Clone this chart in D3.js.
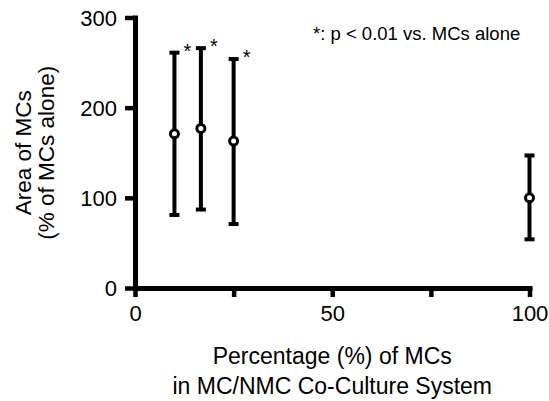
<!DOCTYPE html>
<html>
<head>
<meta charset="utf-8">
<script src="https://cdn.jsdelivr.net/npm/d3@7"></script>
<style>
  body { margin: 0; background: #fff; }
  text { font-family: "Liberation Sans", Arial, sans-serif; fill: #000; }
</style>
</head>
<body>
<div id="chart"></div>
<script>
// values
var pctMCs = [10, 16.7, 25, 100];
var meanArea = [171, 177, 163, 100];
var upperArea = [261, 266, 254, 147];
var lowerArea = [81, 87, 71, 54];
var significant = [true, true, true, false];

var xTicks = [0, 25, 50, 75, 100];
var xTickLabels = ["0", "", "50", "", "100"];
var yTicks = [0, 100, 200, 300];

var W = 549, H = 401;
var margin = { top: 17.5, right: 19.5, bottom: 113, left: 135 },
    width = W - margin.left - margin.right,
    height = H - margin.top - margin.bottom;

var svg = d3.select("#chart")
    .append("svg")
    .attr("width", W)
    .attr("height", H);

var g = svg.append("g")
    .attr("transform", "translate(" + margin.left + "," + margin.top + ")");

var x = d3.scaleLinear().domain([0, 100]).range([0, width]);
var y = d3.scaleLinear().domain([0, 300]).range([height, 0]);

// axes
var xAxis = g.append("g")
    .attr("transform", "translate(0," + height + ")")
    .call(d3.axisBottom(x)
        .tickValues(xTicks)
        .tickFormat(function(d, i) { return xTickLabels[i]; })
        .tickSize(9)
        .tickSizeOuter(0)
        .tickPadding(5));

var yAxis = g.append("g")
    .call(d3.axisLeft(y)
        .tickValues(yTicks)
        .tickSize(10)
        .tickSizeOuter(0)
        .tickPadding(8));

[xAxis, yAxis].forEach(function(ax) {
    ax.select(".domain")
        .attr("stroke", "#000")
        .attr("stroke-width", 5)
        .attr("stroke-linecap", "square");
    ax.selectAll(".tick line")
        .attr("stroke", "#000")
        .attr("stroke-width", 4.5);
    ax.selectAll(".tick text")
        .style("font-size", "22px")
        .attr("fill", "#000");
});

xAxis.selectAll(".tick text").attr("dy", "0.85em");
yAxis.selectAll(".tick text").attr("dy", "0.36em");

// error bars
var capHalf = 5;
var bars = g.append("g").selectAll("g.bar")
    .data(pctMCs)
    .enter()
    .append("g")
    .attr("class", "bar");

bars.append("line")
    .attr("x1", function(d) { return x(d); })
    .attr("x2", function(d) { return x(d); })
    .attr("y1", function(d, i) { return y(upperArea[i]); })
    .attr("y2", function(d, i) { return y(lowerArea[i]); })
    .attr("stroke", "#000")
    .attr("stroke-width", 4);

bars.append("line")
    .attr("x1", function(d) { return x(d) - capHalf; })
    .attr("x2", function(d) { return x(d) + capHalf; })
    .attr("y1", function(d, i) { return y(upperArea[i]); })
    .attr("y2", function(d, i) { return y(upperArea[i]); })
    .attr("stroke", "#000")
    .attr("stroke-width", 4);

bars.append("line")
    .attr("x1", function(d) { return x(d) - capHalf; })
    .attr("x2", function(d) { return x(d) + capHalf; })
    .attr("y1", function(d, i) { return y(lowerArea[i]); })
    .attr("y2", function(d, i) { return y(lowerArea[i]); })
    .attr("stroke", "#000")
    .attr("stroke-width", 4);

bars.append("circle")
    .attr("cx", function(d) { return x(d); })
    .attr("cy", function(d, i) { return y(meanArea[i]); })
    .attr("r", 4)
    .attr("fill", "#fff")
    .attr("stroke", "#000")
    .attr("stroke-width", 3);

// significance marks
bars.filter(function(d, i) { return significant[i]; })
    .append("text")
    .attr("x", function(d) { return x(d) + 13; })
    .attr("y", function(d) { return y(upperArea[pctMCs.indexOf(d)]) + 5; })
    .attr("text-anchor", "middle")
    .style("font-size", "20px")
    .text("*");

// note
svg.append("text")
    .attr("x", 313)
    .attr("y", 40)
    .style("font-size", "18.5px")
    .text("*: p < 0.01 vs. MCs alone");

// axis titles
var cx = margin.left + width / 2;
svg.append("text")
    .attr("x", cx)
    .attr("y", 364)
    .attr("text-anchor", "middle")
    .style("font-size", "23px")
    .text("Percentage (%) of MCs");
svg.append("text")
    .attr("x", cx)
    .attr("y", 394)
    .attr("text-anchor", "middle")
    .style("font-size", "23px")
    .text("in MC/NMC Co-Culture System");

var cy = margin.top + height / 2;
var ylab = svg.append("text")
    .attr("transform", "translate(0," + cy + ") rotate(-90)")
    .attr("text-anchor", "middle")
    .style("font-size", "22.5px");
ylab.append("tspan").attr("x", 0).attr("y", 31).text("Area of MCs");
ylab.append("tspan").attr("x", 0).attr("y", 54).text("(% of MCs alone)");
</script>
</body>
</html>
